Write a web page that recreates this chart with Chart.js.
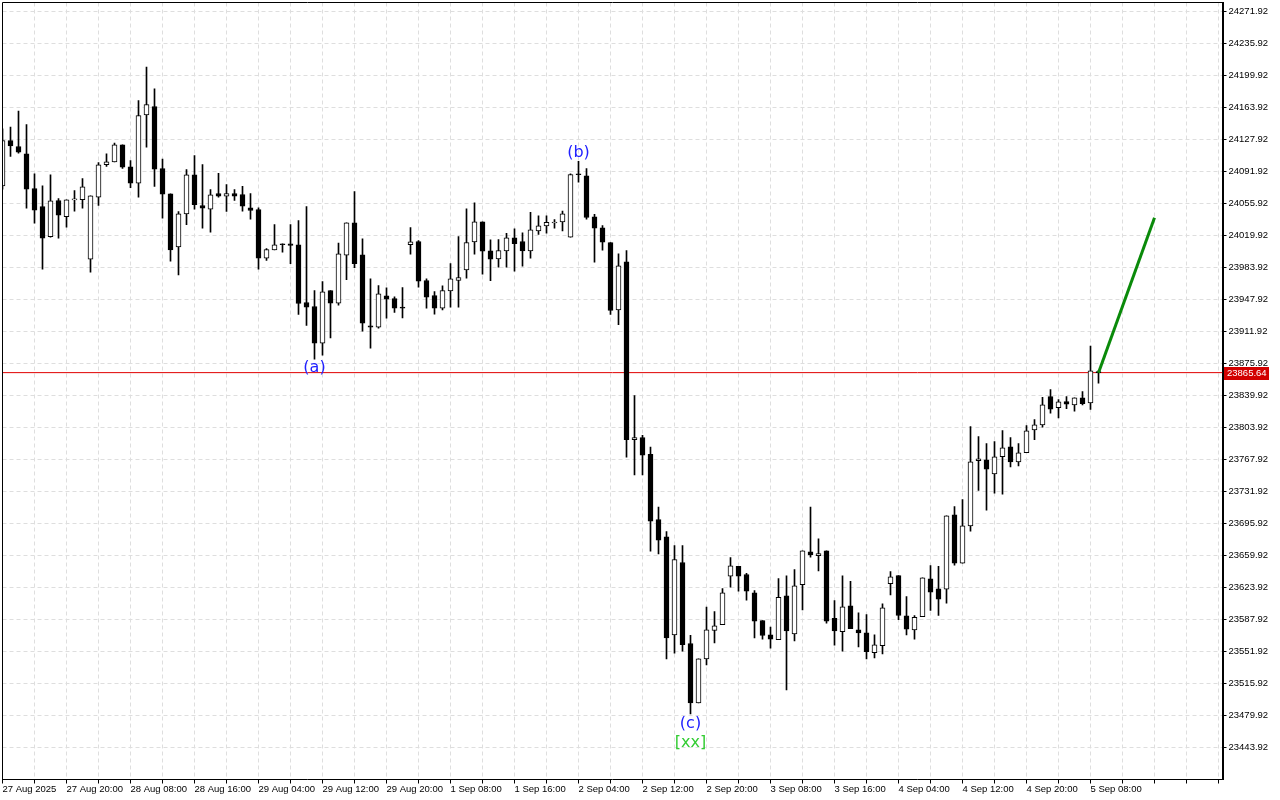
<!DOCTYPE html>
<html><head><meta charset="utf-8">
<script src="https://cdn.jsdelivr.net/npm/chart.js@4/dist/chart.umd.min.js"></script>
<style>html,body{margin:0;padding:0;background:#fff;overflow:hidden}canvas{display:block}</style>
</head><body>
<canvas id="c" width="1280" height="800"></canvas>
<script>
const xLabels = ["27 Aug 2025","27 Aug 20:00","28 Aug 08:00","28 Aug 16:00","29 Aug 04:00","29 Aug 12:00","29 Aug 20:00","1 Sep 08:00","1 Sep 16:00","2 Sep 04:00","2 Sep 12:00","2 Sep 20:00","3 Sep 08:00","3 Sep 16:00","4 Sep 04:00","4 Sep 12:00","4 Sep 20:00","5 Sep 08:00"];
const labelEvery = 8;
const yTicks = [23443.92,23479.92,23515.92,23551.92,23587.92,23623.92,23659.92,23695.92,23731.92,23767.92,23803.92,23839.92,23875.92,23911.92,23947.92,23983.92,24019.92,24055.92,24091.92,24127.92,24163.92,24199.92,24235.92,24271.92];

const opens = [24075.8,24126.8,24120.0,24111.8,24072.8,24052.5,24018.5,24059.3,24041.0,24060.0,
24060.1,23993.3,24063.0,24099.5,24102.8,24121.9,24097.2,24078.8,24155.7,24165.0,
24095.3,24066.8,24007.2,24044.3,24088.2,24053.7,24049.5,24067.2,24064.1,24067.2,
24066.0,24051.1,24049.2,23994.4,24003.8,24010.0,24010.6,24009.5,23944.5,23940.0,
23898.8,23958.0,23943.8,23997.8,24034.2,23998.2,23918.3,23916.8,23952.1,23949.0,
23938.6,24009.5,24013.2,23969.3,23952.4,23938.1,23957.7,23969.3,23981.3,24012.8,
24035.3,24002.7,23993.7,24002.7,24017.3,24013.2,24002.7,24025.2,24030.8,24034.0,
24035.3,24018.0,24088.5,24087.1,24041.0,24028.6,24012.0,23936.3,23990.3,23790.1,
23792.7,23773.6,23700.4,23680.9,23570.7,23652.0,23560.9,23494.2,23543.7,23575.5,
23582.0,23636.6,23647.6,23638.5,23617.9,23586.8,23570.7,23565.1,23614.6,23571.8,
23627.0,23664.1,23659.6,23665.2,23589.1,23574.1,23603.3,23576.3,23572.9,23550.5,
23558.4,23628.1,23637.4,23592.1,23576.3,23591.0,23633.7,23622.4,23622.0,23705.7,
23651.3,23693.3,23766.5,23767.6,23751.8,23771.0,23782.2,23765.3,23775.5,23801.3,
23806.9,23838.8,23826.1,23833.2,23829.4,23837.3,23831.7,23866.6];
const highs = [24140.0,24141.8,24159.8,24144.8,24089.3,24075.8,24088.2,24061.5,24060.1,24070.5,
24084.0,24064.6,24102.0,24111.8,24123.8,24121.9,24104.3,24171.8,24209.3,24185.0,
24105.8,24066.8,24046.9,24094.2,24109.9,24099.8,24071.7,24090.0,24077.3,24071.7,
24075.1,24067.2,24051.1,24005.3,24032.3,24010.6,24032.3,24036.8,24052.5,23958.0,
23968.2,23958.0,24011.3,24034.2,24069.4,24016.2,23971.2,23963.7,23961.1,23950.9,
23961.4,24028.9,24014.3,23971.2,23956.9,23963.3,23988.4,24018.8,24049.9,24056.7,
24035.3,24015.1,24015.4,24022.5,24027.4,24023.0,24046.1,24042.1,24042.1,24037.9,
24047.3,24089.3,24103.5,24095.3,24043.6,24031.2,24012.0,23999.3,24003.0,23839.9,
23795.0,23781.8,23714.3,23686.9,23671.2,23671.2,23570.2,23543.7,23601.8,23596.9,
23622.8,23657.7,23647.6,23640.0,23620.5,23586.8,23579.3,23634.0,23637.1,23644.2,
23665.2,23714.3,23678.7,23665.2,23609.3,23637.1,23631.0,23595.5,23593.5,23570.7,
23605.6,23641.9,23637.4,23613.8,23592.4,23634.8,23648.7,23647.6,23704.6,23715.0,
23722.9,23805.0,23793.8,23785.9,23788.2,23800.5,23792.7,23785.9,23806.1,23812.9,
23838.0,23846.7,23835.4,23838.8,23837.3,23844.4,23895.4,23868.0];
const lows = [24072.0,24108.8,24112.5,24050.6,24033.8,23982.0,24018.0,24016.9,24029.3,24047.3,
24050.6,23978.6,24053.7,24097.6,24102.8,24095.3,24073.6,24063.0,24119.3,24075.1,
24039.4,23991.0,23975.7,24032.0,24049.5,24028.1,24023.6,24063.0,24046.9,24059.3,
24047.3,24038.3,23982.0,23991.8,24003.8,24001.1,23988.1,23931.1,23918.7,23880.8,
23885.3,23904.8,23941.5,23970.1,23983.6,23912.3,23893.1,23915.6,23926.9,23933.3,
23927.3,23998.9,23961.8,23938.1,23931.4,23936.3,23939.3,23939.3,23971.9,23998.9,
23976.4,23969.0,23984.3,23984.3,23979.8,23985.4,23994.4,24021.0,24022.5,24028.1,
24025.2,24018.0,24079.9,24038.3,23989.9,24003.4,23931.1,23919.5,23770.5,23750.7,
23750.7,23664.7,23661.8,23543.7,23550.0,23552.3,23481.8,23494.2,23536.9,23561.7,
23582.0,23624.3,23619.8,23609.6,23567.3,23565.8,23555.7,23565.1,23508.8,23563.9,
23598.8,23658.0,23642.7,23583.8,23559.0,23552.2,23577.5,23557.2,23543.7,23544.8,
23549.3,23615.7,23587.6,23570.7,23565.8,23591.0,23598.0,23592.4,23606.3,23649.0,
23651.3,23687.3,23733.0,23710.9,23730.0,23728.9,23759.7,23760.7,23775.5,23790.1,
23804.3,23820.0,23814.8,23825.0,23822.3,23829.4,23824.2,23853.7];
const closes = [24126.8,24120.8,24113.6,24072.0,24048.4,24016.9,24058.9,24042.8,24060.1,24060.3,
24074.7,24064.6,24099.5,24102.8,24121.9,24096.8,24078.8,24154.9,24167.3,24094.5,
24066.4,24003.8,24044.3,24088.2,24054.5,24050.6,24065.7,24064.1,24067.2,24064.1,
24052.9,24048.0,23994.4,24004.2,24009.5,24009.5,24008.7,23943.4,23939.3,23898.8,
23956.6,23943.8,23999.3,24034.2,23988.1,23921.3,23916.8,23954.3,23948.3,23938.1,
23938.3,24012.8,23968.5,23950.5,23938.1,23958.0,23971.2,23972.7,24012.0,24035.3,
24002.3,23993.3,24003.0,24017.3,24010.6,24002.7,24026.3,24030.8,24034.6,24034.2,
24044.3,24088.5,24088.3,24040.2,24028.1,24012.4,23935.5,23985.8,23790.1,23792.7,
23772.8,23698.5,23677.1,23567.3,23655.4,23559.5,23494.2,23543.7,23576.3,23580.8,
23618.0,23648.3,23636.6,23619.8,23586.0,23569.9,23565.8,23613.0,23575.2,23625.8,
23665.2,23660.7,23662.2,23586.0,23575.2,23602.2,23577.5,23572.9,23551.6,23559.5,
23601.1,23636.0,23592.4,23577.0,23590.5,23634.8,23618.6,23610.8,23704.6,23651.3,
23693.3,23765.3,23768.7,23757.0,23771.0,23781.1,23765.3,23775.5,23800.2,23806.9,
23829.4,23824.6,23832.8,23830.2,23837.3,23830.6,23867.7,23865.64];

const lastPrice = 23865.64;
const forecastIdx = [137, 144];
const forecastVal = [23865.64, 24040.0];
const waveText = ["(a)", "(b)", "(c)", "[xx]"];
const waveIdx = [39, 72, 86, 86];
const waveAnchor = ["low", "high", "low", "low"];

// ---- layout / style ----
const yMax = 24282.045, yMin = 23407.92;
const xMax = 152.5;
const AXIS_FAMILY = "'Liberation Sans',Arial,sans-serif";
const AXIS_FONT = {family: AXIS_FAMILY, size: 9.5};
const waveStyle = [
  {color: '#2222ff', dy: 8.5}, {color: '#2222ff', dy: -8.5},
  {color: '#2222ff', dy: 9.7}, {color: '#33cc33', dy: 28.7}
];

const n = opens.length;
const bodies = [], wicks = [], bodyFill = [];
for (let i = 0; i < n; i++) {
  bodies.push({x: i, y: [opens[i], closes[i]]});
  wicks.push({x: i, y: [lows[i], highs[i]]});
  bodyFill.push(closes[i] >= opens[i] ? '#ffffff' : '#000000');
}

const overlay = {
  id: 'overlay',
  afterDraw(chart) {
    const {ctx, chartArea: a, scales} = chart;
    ctx.save();
    ctx.strokeStyle = '#000'; ctx.lineWidth = 1;
    ctx.beginPath();
    ctx.moveTo(a.left, a.bottom); ctx.lineTo(a.left, a.top); ctx.lineTo(a.right, a.top);
    ctx.stroke();
    ctx.textAlign = 'center'; ctx.textBaseline = 'middle';
    ctx.font = "16px 'DejaVu Sans', sans-serif";
    for (let k = 0; k < waveText.length; k++) {
      const i = waveIdx[k];
      const v = waveAnchor[k] === 'low' ? lows[i] : highs[i];
      const px = scales.x.getPixelForValue(i);
      const py = scales.y.getPixelForValue(v) + waveStyle[k].dy;
      ctx.fillStyle = waveStyle[k].color;
      ctx.fillText(waveText[k], px, py);
    }
    const py = Math.round(scales.y.getPixelForValue(lastPrice));
    ctx.fillStyle = '#d20000';
    ctx.fillRect(a.right + 1.5, py - 6, 45, 13);
    ctx.fillStyle = '#fff';
    ctx.font = "9.5px " + AXIS_FAMILY;
    ctx.textAlign = 'left';
    ctx.fillText(lastPrice.toFixed(2), a.right + 4.5, py + 0.5);
    ctx.restore();
  }
};

new Chart(document.getElementById('c'), {
  type: 'bar',
  data: {
    datasets: [
      {type: 'line', data: [{x: 0, y: lastPrice}, {x: xMax, y: lastPrice}], borderColor: '#e00000', borderWidth: 1, pointRadius: 0, order: 3},
      {type: 'bar', data: wicks, backgroundColor: '#000', borderWidth: 0, barThickness: 1, order: 2},
      {type: 'bar', data: bodies, backgroundColor: bodyFill, borderColor: '#000', borderWidth: 1, borderSkipped: false, barThickness: 5, minBarLength: 1, order: 1},
      {type: 'line', data: forecastIdx.map((x, k) => ({x, y: forecastVal[k]})), borderColor: '#0a8a0a', borderWidth: 3, pointRadius: 0, order: 0}
    ]
  },
  options: {
    responsive: false, animation: false,
    layout: {padding: {left: 2.5, top: 2.5, right: 0, bottom: 0}},
    plugins: {legend: {display: false}, tooltip: {enabled: false}},
    datasets: {bar: {grouped: false}},
    scales: {
      x: {
        type: 'linear', min: 0, max: xMax, offset: false,
        afterFit(s) { s.height = 20.5; s.paddingLeft = 0; s.paddingRight = 0; },
        afterBuildTicks(s) { const t = []; for (let v = 0; v <= xMax; v += labelEvery / 2) t.push({value: v}); s.ticks = t; },
        grid: {offset: false, color: '#dedede', tickColor: '#000', tickLength: 4, drawTicks: true},
        border: {display: true, color: '#000', width: 1, dash: [4, 3]},
        ticks: {
          autoSkip: false, maxRotation: 0, minRotation: 0, align: 'start', padding: 0,
          color: '#000', font: AXIS_FONT,
          callback(v) { return (v % labelEvery === 0 && v / labelEvery < xLabels.length) ? xLabels[v / labelEvery] : ''; }
        }
      },
      y: {
        type: 'linear', position: 'right', min: yMin, max: yMax,
        afterFit(s) { s.width = 57.5; s.paddingTop = 0; s.paddingBottom = 0; },
        afterBuildTicks(s) { s.ticks = yTicks.map(v => ({value: v})); },
        grid: {color: '#dedede', tickColor: '#000', tickLength: 4, drawTicks: true},
        border: {display: true, color: '#000', width: 2, dash: [4, 3]},
        ticks: {color: '#000', font: AXIS_FONT, padding: 2, callback(v) { return v.toFixed(2); }}
      }
    }
  },
  plugins: [overlay]
});
</script>
</body></html>
